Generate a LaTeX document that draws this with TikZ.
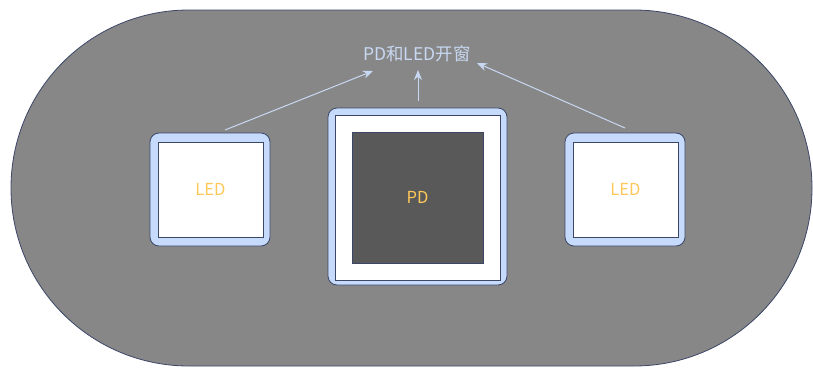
\documentclass[tikz,border=0pt]{standalone}
\usepackage{fontspec}
\setmainfont{Noto Sans CJK SC}
\usetikzlibrary{arrows.meta}
\definecolor{bggray}{HTML}{878787}
\definecolor{edge}{HTML}{3C4768}
\definecolor{lightblue}{HTML}{C6DAFC}
\definecolor{darksq}{HTML}{595959}
\definecolor{ledtxt}{HTML}{FFC85A}
\definecolor{lbltxt}{HTML}{C8D8F2}
\tikzset{
  outerbox/.style={draw=edge, line width=0.8pt, fill=lightblue, rounded corners=9pt},
  innerbox/.style={draw=edge, line width=0.8pt, fill=white},
  darkbox/.style={draw=edge, line width=0.8pt, fill=darksq},
  ledlabel/.style={text=ledtxt, font=\fontsize{16.5}{18}\selectfont},
  arr/.style={draw=lbltxt, line width=1pt, -{Stealth[length=10pt,width=8pt]}}
}
\begin{document}
\begin{tikzpicture}[x=1pt,y=-1pt]
\useasboundingbox (0,0) rectangle (813,367);
% stadium
\draw[draw=edge, line width=0.8pt, fill=bggray, rounded corners=177.9pt]
  (11,10) rectangle (812,366);
% left LED
\draw[outerbox] (150,133) rectangle (270,246);
\node[innerbox, minimum width=105pt, minimum height=95pt, inner sep=0pt] (ledL) at (210.5,189.5) {};
\node[ledlabel] at (ledL.center) {LED};
% right LED
\draw[outerbox] (565,133) rectangle (685,246);
\node[innerbox, minimum width=105pt, minimum height=95pt, inner sep=0pt] (ledR) at (625.5,189.5) {};
\node[ledlabel] at (ledR.center) {LED};
% PD
\node[outerbox, minimum width=179pt, minimum height=177pt, inner sep=0pt] (pdo) at (417.5,196.5) {};
\node[innerbox, minimum width=165pt, minimum height=165pt, inner sep=0pt] (pdw) at (417.5,197.5) {};
\node[darkbox, minimum width=131pt, minimum height=131pt, inner sep=0pt] (pd) at (417.5,197.5) {};
\node[ledlabel] at (pd.center) {PD};
% label
\node[text=lbltxt, font=\fontsize{17.5}{19}\selectfont, inner sep=2pt] (lbl) at (417,54) {PD和LED开窗};
\coordinate (sL) at (225,130);
\coordinate (sR) at (625,128);
\coordinate (sM) at (418,101);
\coordinate (tM) at (418,70);
\draw[arr] (sL) -- (373,71);
\draw[arr] (sM) -- (tM);
\draw[arr] (sR) -- (477,63);
\end{tikzpicture}
\end{document}
